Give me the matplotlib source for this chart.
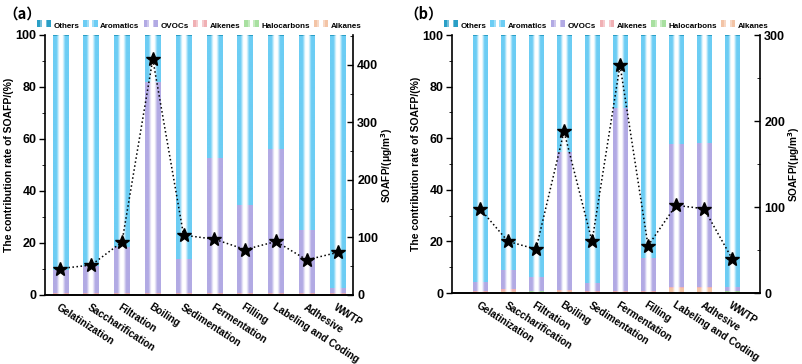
import numpy as np
import matplotlib.pyplot as plt
from matplotlib.patches import Rectangle
from matplotlib.legend_handler import HandlerBase
from matplotlib.colors import to_rgb

plt.rcParams['font.family'] = ['Liberation Sans', 'DejaVu Sans']
plt.rcParams['font.weight'] = 'bold'
plt.rcParams['axes.labelweight'] = 'bold'

stages = ['Gelatinization', 'Saccharification', 'Filtration', 'Boiling', 'Sedimentation',
          'Fermentation', 'Filling', 'Labeling and Coding', 'Adhesive', 'WWTP']

# panel (a) contributions (%)
alkanes_a = [0.3, 0.3, 0.3, 0.3, 0.3, 0.3, 0.3, 0.3, 0.3, 0.3]
halo_a = [0.1, 0.1, 0.1, 0.1, 0.1, 0.1, 0.1, 0.1, 0.1, 0.1]
alkenes_a = [0.4, 0.4, 0.4, 0.4, 0.4, 0.4, 0.4, 0.4, 0.4, 0.4]
ovocs_a = [8.7, 10.5, 17.5, 81.2, 13.0, 52.0, 33.8, 55.2, 24.2, 1.8]
arom_a = [90.2, 88.4, 81.4, 17.7, 85.9, 46.9, 65.1, 43.7, 74.7, 97.1]
others_a = [0.3, 0.3, 0.3, 0.3, 0.3, 0.3, 0.3, 0.3, 0.3, 0.3]
soafp_a = [46, 52, 92, 410, 104, 97, 79, 93, 61, 74]

# panel (b) contributions (%)
alkanes_b = [0.3, 0.8, 0.5, 0.6, 0.3, 0.3, 0.3, 1.8, 2.0, 0.5]
halo_b = [0.1, 0.1, 0.1, 0.1, 0.1, 0.1, 0.1, 0.1, 0.1, 0.1]
alkenes_b = [0.3, 0.5, 0.3, 0.3, 0.3, 0.3, 0.3, 0.4, 0.4, 0.3]
ovocs_b = [3.7, 7.5, 5.4, 53.8, 3.3, 70.9, 12.7, 55.3, 55.5, 1.5]
arom_b = [95.3, 90.8, 93.4, 44.9, 95.7, 28.1, 86.3, 42.1, 41.7, 97.3]
others_b = [0.3, 0.3, 0.3, 0.3, 0.3, 0.3, 0.3, 0.3, 0.3, 0.3]
soafp_b = [98, 60, 51, 188, 60, 265, 55, 102, 98, 40]

names = ['Alkanes', 'Halocarbons', 'Alkenes', 'OVOCs', 'Aromatics', 'Others']
colors = ['#f3c4a6', '#a8e0a0', '#f0b0b4', '#b2aae4', '#6ccdf4', '#2a9fc6']

def grad_rgba(color, n=64):
    t = np.linspace(0, 1, n)
    d = np.abs(t - 0.5) * 2
    a = np.clip((d - 0.2) / 0.35, 0, 1)
    rgb = np.array(to_rgb(color))
    img = np.ones((1, n, 3)) * (1 - a[None, :, None]) + rgb[None, None, :] * a[None, :, None]
    return img

class GradHandler(HandlerBase):
    def create_artists(self, legend, orig, xd, yd, w, h, fontsize, trans):
        col = orig.get_facecolor()
        arts = []
        n = 8
        img = grad_rgba(col, n)[0]
        for i in range(n):
            r = Rectangle((xd + w * i / n, yd), w / n, h, facecolor=img[i], edgecolor='none', transform=trans)
            arts.append(r)
        return arts

def panel(ax, data, soafp, ymax2, xlim, yticks2):
    x = np.arange(len(stages))
    bottom = np.zeros(len(stages))
    handles = []
    for vals, name, col in zip(data, names, colors):
        bars = ax.bar(x, vals, 0.5, bottom=bottom, color='white', edgecolor='none', label=name, zorder=1)
        for b in bars:
            bx, by = b.get_x(), b.get_y()
            bw, bh = b.get_width(), b.get_height()
            if bh <= 0:
                continue
            im = ax.imshow(grad_rgba(col), extent=[bx, bx + bw, by, by + bh], aspect='auto', zorder=2,
                           interpolation='bilinear')
            im.set_clip_path(b)
        bottom += np.array(vals)
        handles.append(Rectangle((0, 0), 1, 1, facecolor=col, label=name))
    ax.set_xlim(*xlim)
    ax.set_ylim(0, 100)
    ax.set_yticks(np.arange(0, 101, 20))
    ax.set_yticks(np.arange(0, 101, 10), minor=True)
    ax.set_xticks(x)
    ax.set_xticklabels(stages, rotation=-33, ha='left', va='top', rotation_mode='anchor', fontsize=7.3)
    ax.tick_params(axis='x', length=0, pad=5)
    ax.tick_params(axis='y', labelsize=9, direction='out', length=4, width=1, pad=2)
    ax.tick_params(axis='y', which='minor', length=2.5)
    ax.set_ylabel('The contribution rate of SOAFP/(%)', fontsize=7.5, labelpad=1)
    ax.spines['top'].set_visible(False)
    ax.spines['right'].set_visible(False)
    for s in ['left', 'bottom']:
        ax.spines[s].set_linewidth(1.2)
    ax2 = ax.twinx()
    ax2.plot(x, soafp, ':', color='black', lw=1.1, marker='*', ms=10, mfc='black', mec='black', zorder=5)
    ax2.set_ylim(0, ymax2)
    ax2.set_yticks(yticks2)
    ax2.set_yticks(np.arange(0, ymax2 + 1, 50), minor=True)
    ax2.tick_params(axis='y', which='both', direction='in')
    ax2.tick_params(axis='y', labelsize=9, length=4, width=1, pad=3)
    ax2.tick_params(axis='y', which='minor', length=2.5)
    ax2.set_ylabel('SOAFP/(μg/m$^\\mathbf{3}$)', fontsize=7.3, labelpad=1)
    ax2.spines['top'].set_visible(False)
    ax2.spines['left'].set_visible(False)
    ax2.spines['right'].set_linewidth(1.2)
    ax2.spines['bottom'].set_linewidth(1.2)
    ax.legend(handles[::-1], names[::-1], handler_map={Rectangle: GradHandler()}, ncol=6,
              loc='lower center', bbox_to_anchor=(0.5, 1.0), frameon=False, fontsize=5.8,
              handlelength=1.8, handleheight=1.0, columnspacing=0.5, handletextpad=0.3,
              borderaxespad=0.4, borderpad=0.2)

fig = plt.figure(figsize=(8.03, 3.64), dpi=100)
axa = fig.add_axes([0.056, 0.1896, 0.3836, 0.7143])
axb = fig.add_axes([0.5629, 0.195, 0.3836, 0.7088])

panel(axa, [alkanes_a, halo_a, alkenes_a, ovocs_a, arom_a, others_a], soafp_a, 452, (-0.5, 9.5),
      [0, 100, 200, 300, 400])
panel(axb, [alkanes_b, halo_b, alkenes_b, ovocs_b, arom_b, others_b], soafp_b, 300, (-1.0, 10.0),
      [0, 100, 200, 300])

fig.text(0.004, 0.962, '（a）', fontsize=10.5, fontweight='bold', family=['Noto Sans CJK SC', 'DejaVu Sans'], va='center')
fig.text(0.503, 0.962, '（b）', fontsize=10.5, fontweight='bold', family=['Noto Sans CJK SC', 'DejaVu Sans'], va='center')

fig.savefig('out.png', dpi=100)
